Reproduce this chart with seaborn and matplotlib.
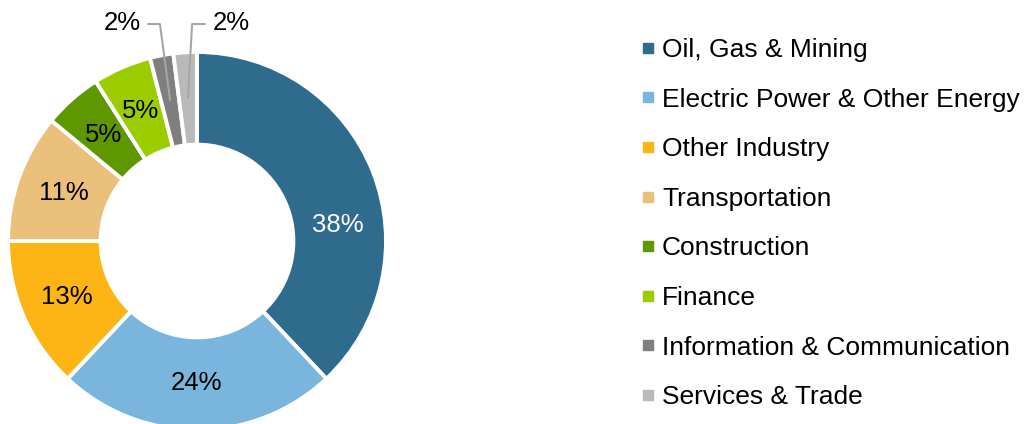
import numpy as np
import seaborn as sns
import matplotlib.pyplot as plt
from matplotlib.lines import Line2D

sectors = ["Oil, Gas & Mining", "Electric Power & Other Energy", "Other Industry",
           "Transportation", "Construction", "Finance",
           "Information & Communication", "Services & Trade"]
shares = [38, 24, 13, 11, 5, 5, 2, 2]
colors = ["#2E6B8D", "#7AB5DD", "#FDB515", "#EBC07B", "#5F9700", "#9ACC00", "#7F7F7F", "#B9B9B9"]

sns.set_theme(style="white")
plt.rcParams['font.family'] = ['Liberation Sans', 'DejaVu Sans']
plt.rcParams['text.color'] = 'black'

fig = plt.figure(figsize=(10.26, 4.24), dpi=100)
# pie axes: centre at (197, 241) px, radius 189 px
R = 189.0
ax = fig.add_axes([0, 0, 400 / 1026, 1])
wedges, _ = ax.pie(shares, colors=colors, startangle=90, counterclock=False,
                   radius=1.0, wedgeprops=dict(width=0.49, edgecolor="white", linewidth=2.8))
ax.set_aspect("auto")
ax.set_xlim(-197 / R, 203 / R)
ax.set_ylim(-183 / R, 241 / R)
ax.axis("off")

total = sum(shares)
for i, (w, v) in enumerate(zip(wedges, shares)):
    mid = (w.theta1 + w.theta2) / 2
    pct = f"{round(100 * v / total)}%"
    if v / total < 0.03:
        # small slices: label above with leader line
        r = 0.76
        px, py = r * np.cos(np.radians(mid)), r * np.sin(np.radians(mid))
        if i == 6:
            elbow, end, side = -0.196, -0.259, -1
        else:
            elbow, end, side = -0.026, 0.042, 1
        ax.plot([px, elbow, end], [py, 1.148, 1.148], color="#A6A6A6", lw=1.5)
        tx = end + side * 0.04
        ax.text(tx, 1.155, pct, ha="left" if side > 0 else "right", va="center",
                fontsize=18.5)
    else:
        r = 0.75
        ang = mid - 15 if i == 0 else mid
        tx, ty = r * np.cos(np.radians(ang)), r * np.sin(np.radians(ang))
        ax.text(tx, ty, pct, ha="center", va="center", fontsize=18.5,
                color="white" if i == 0 else "black")

handles = [Line2D([], [], marker="s", linestyle="", markersize=6.5, color=c) for c in colors]
fig.legend(handles, sectors, loc="upper left", bbox_to_anchor=(641 / 1026, 1 - 38 / 424),
           frameon=False, fontsize=19, handlelength=0.5, handletextpad=0.3,
           labelspacing=0.97, borderaxespad=0, borderpad=0)

fig.savefig("out.png", dpi=100)
